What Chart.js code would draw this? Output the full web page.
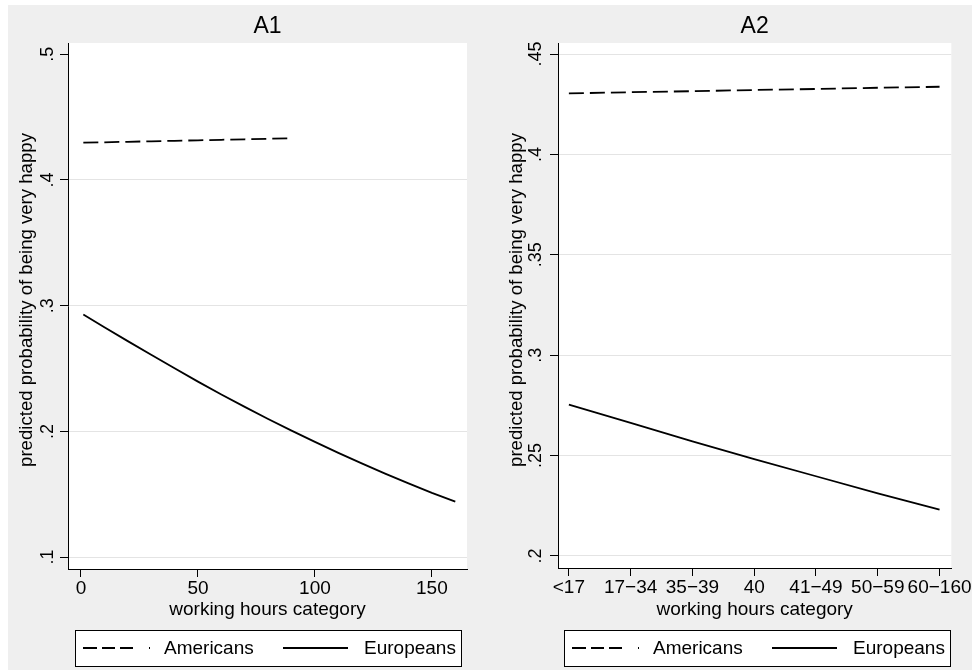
<!DOCTYPE html>
<html>
<head>
<meta charset="utf-8">
<script src="https://cdn.jsdelivr.net/npm/chart.js@4.4.1/dist/chart.umd.min.js"></script>
<style>
    html, body { margin: 0; padding: 0; background: #fff; }
    #wrap { position: relative; width: 972px; height: 672px; overflow: hidden; }
    #bg { position: absolute; left: 8px; top: 5px; width: 964px; height: 665px; background: #efefef; }
    canvas { position: absolute; top: 0; }
</style>
</head>
<body>
<div id="wrap">
    <div id="bg"></div>
    <canvas id="PanelA1" width="486" height="672" style="left:0"></canvas>
    <canvas id="PanelA2" width="486" height="672" style="left:486px"></canvas>
</div>
<script>
// A1: working hours as a number
const a1AmericanHours = [1, 10, 20, 30, 40, 50, 60, 70, 80, 89];
const a1Americans = [0.4297, 0.4300, 0.4304, 0.4308, 0.4312, 0.4316, 0.4320, 0.4324, 0.4328, 0.4332];
const a1EuropeanHours = [1, 10, 20, 30, 40, 50, 60, 70, 80, 90, 100, 110, 120, 130, 140, 150, 160];
const a1Europeans = [0.2930, 0.2829, 0.2718, 0.2609, 0.2502, 0.2396, 0.2294, 0.2195, 0.2099, 0.2006,
                     0.1916, 0.1829, 0.1745, 0.1664, 0.1586, 0.1511, 0.1441];
const a1XTicks = [0, 50, 100, 150];
const a1YTicks = [0.1, 0.2, 0.3, 0.4, 0.5];

// A2: working hours categories
const a2Categories = ['<17', '17\u221234', '35\u221239', '40', '41\u221249', '50\u221259', '60\u2212160'];
const a2Americans = [0.4304, 0.4310, 0.4315, 0.4321, 0.4326, 0.4332, 0.4337];
const a2Europeans = [0.2754, 0.2663, 0.2571, 0.2482, 0.2397, 0.2312, 0.2231];
const a2YTicks = [0.2, 0.25, 0.3, 0.35, 0.4, 0.45];

const FONT = '"Liberation Sans", Arial, Helvetica, sans-serif';
Chart.defaults.font.family = FONT;
Chart.defaults.color = '#000';

// Stata style tick labels: .1 .25 etc
function stataNum(v) {
    return String(+v.toFixed(4)).replace(/^0\./, '.');
}

// white plot region, rotated y labels, panel title and boxed legend
const panelDecor = {
    id: 'panelDecor',
    beforeDraw(chart) {
        const a = chart.chartArea;
        const ctx = chart.ctx;
        ctx.save();
        ctx.fillStyle = '#fff';
        ctx.fillRect(a.left, a.top, a.right - a.left, a.bottom - a.top);
        ctx.restore();
    },
    afterDraw(chart, args, opts) {
        const ctx = chart.ctx;
        const a = chart.chartArea;
        const yScale = chart.scales.y;
        ctx.save();
        ctx.fillStyle = '#000';

        // panel title
        ctx.font = '23px ' + FONT;
        ctx.textAlign = 'center';
        ctx.textBaseline = 'alphabetic';
        ctx.fillText(opts.title, (a.left + a.right) / 2, 33);

        // y tick labels, turned like the original
        ctx.font = '18px ' + FONT;
        yScale.ticks.forEach(t => {
            ctx.save();
            ctx.translate(opts.tickX, yScale.getPixelForValue(t.value));
            ctx.rotate(-Math.PI / 2);
            ctx.fillText(stataNum(t.value), 0, 0);
            ctx.restore();
        });

        // y axis title
        ctx.font = '18.6px ' + FONT;
        ctx.save();
        ctx.translate(opts.titleX, 300);
        ctx.rotate(-Math.PI / 2);
        ctx.fillText('predicted probability of being very happy', 0, 0);
        ctx.restore();

        // legend box
        const bx = opts.legendX, by = opts.legendY, bw = 386, bh = 36;
        const my = by + bh / 2;
        ctx.fillStyle = '#fff';
        ctx.fillRect(bx, by, bw, bh);
        ctx.strokeStyle = '#000';
        ctx.lineWidth = 1;
        ctx.strokeRect(bx + 0.5, by + 0.5, bw, bh);

        ctx.lineWidth = 1.8;
        ctx.beginPath();
        [[8, 22], [27, 40], [45, 58]].forEach(d => {
            ctx.moveTo(bx + d[0], my);
            ctx.lineTo(bx + d[1], my);
        });
        ctx.moveTo(bx + 74, my);
        ctx.lineTo(bx + 75, my);
        ctx.moveTo(bx + 208, my);
        ctx.lineTo(bx + 273, my);
        ctx.stroke();

        ctx.fillStyle = '#000';
        ctx.font = '19px ' + FONT;
        ctx.textAlign = 'left';
        ctx.textBaseline = 'middle';
        ctx.fillText('Americans', bx + 89, my + 1);
        ctx.fillText('Europeans', bx + 289, my + 1);
        ctx.restore();
    }
};

function createPanel(canvasId, cfg) {
    const ctx = document.getElementById(canvasId).getContext('2d');
    return new Chart(ctx, {
        type: 'line',
        data: {
            datasets: [{
                label: 'Americans',
                data: cfg.americans,
                borderColor: '#000',
                borderWidth: 1.8,
                borderDash: [15, 6]
            }, {
                label: 'Europeans',
                data: cfg.europeans,
                borderColor: '#000',
                borderWidth: 1.8
            }]
        },
        options: {
            responsive: false,
            animation: false,
            devicePixelRatio: 1,
            elements: {
                point: { radius: 0 },
                line: { tension: 0 }
            },
            layout: {
                padding: { top: 43, left: 0, right: cfg.padRight, bottom: 0 }
            },
            plugins: {
                legend: { display: false },
                tooltip: { enabled: false },
                panelDecor: cfg.decor
            },
            scales: {
                x: {
                    type: 'linear',
                    min: cfg.xMin,
                    max: cfg.xMax,
                    afterBuildTicks: s => { s.ticks = cfg.xTicks.map(v => ({ value: v })); },
                    afterFit: s => { s.height = 672 - cfg.axisBottom; },
                    ticks: {
                        font: { size: 19 },
                        color: '#000',
                        padding: 0,
                        maxRotation: 0,
                        minRotation: 0,
                        autoSkip: false,
                        callback: cfg.xLabel
                    },
                    grid: { drawOnChartArea: false, tickColor: '#000', tickLength: 8 },
                    border: { color: '#000', width: 1 },
                    title: {
                        display: true,
                        text: 'working hours category',
                        font: { size: 19 },
                        color: '#000',
                        padding: { top: 0, bottom: 51 }
                    }
                },
                y: {
                    type: 'linear',
                    min: cfg.yMin,
                    max: cfg.yMax,
                    afterBuildTicks: s => { s.ticks = cfg.yTicks.map(v => ({ value: v })); },
                    afterFit: s => { s.width = cfg.axisLeft; },
                    ticks: { display: false },
                    grid: {
                        color: c => (c.tick && cfg.noGrid.includes(c.tick.value)) ? 'rgba(0,0,0,0)' : '#e4e4e4',
                        tickColor: '#000',
                        tickLength: 8
                    },
                    border: { color: '#000', width: 1 }
                }
            }
        },
        plugins: [panelDecor]
    });
}

document.addEventListener('DOMContentLoaded', function () {
    createPanel('PanelA1', {
        americans: a1AmericanHours.map((h, i) => ({ x: h, y: a1Americans[i] })),
        europeans: a1EuropeanHours.map((h, i) => ({ x: h, y: a1Europeans[i] })),
        xMin: -5.55, xMax: 165,
        xTicks: a1XTicks,
        xLabel: v => String(v),
        yMin: 0.0905, yMax: 0.509,
        yTicks: a1YTicks,
        noGrid: [0.5],
        axisLeft: 68, axisBottom: 569, padRight: 19,
        decor: { title: 'A1', tickX: 53, titleX: 32, legendX: 75, legendY: 630 }
    });

    createPanel('PanelA2', {
        americans: a2Categories.map((c, i) => ({ x: i, y: a2Americans[i] })),
        europeans: a2Categories.map((c, i) => ({ x: i, y: a2Europeans[i] })),
        xMin: -0.176, xMax: 6.19,
        xTicks: a2Categories.map((c, i) => i),
        xLabel: v => a2Categories[v],
        yMin: 0.194, yMax: 0.4555,
        yTicks: a2YTicks,
        noGrid: [],
        axisLeft: 72, axisBottom: 568, padRight: 16,
        decor: { title: 'A2', tickX: 55, titleX: 36, legendX: 78, legendY: 630 }
    });
});
</script>
</body>
</html>
